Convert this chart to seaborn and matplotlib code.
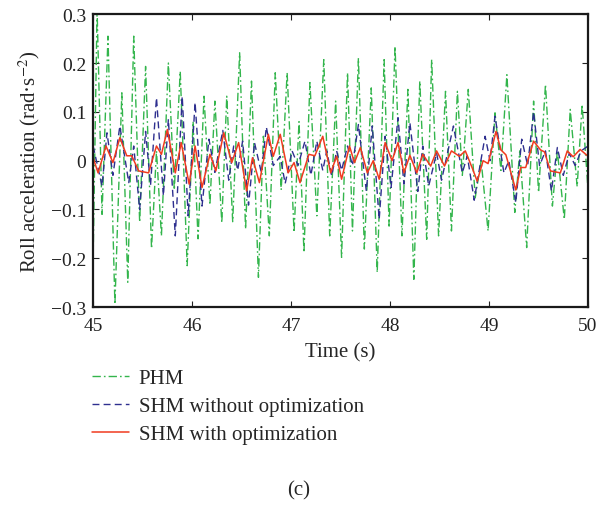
import numpy as np
import pandas as pd
import matplotlib
matplotlib.use("Agg")
import matplotlib.pyplot as plt
import seaborn as sns

# ==========================================
# Data (local peaks / troughs)
# ==========================================
phm_t = [45.00, 45.04, 45.09, 45.15, 45.22, 45.29, 45.35, 45.41, 45.47, 45.53,
         45.59, 45.64, 45.69, 45.76, 45.82, 45.88, 45.95, 46.01, 46.06, 46.12,
         46.18, 46.23, 46.30, 46.35, 46.41, 46.48, 46.54, 46.60, 46.67, 46.72,
         46.78, 46.84, 46.90, 46.96, 47.03, 47.08, 47.13, 47.19, 47.26, 47.33,
         47.39, 47.45, 47.51, 47.57, 47.62, 47.68, 47.74, 47.81, 47.87, 47.94,
         47.99, 48.05, 48.12, 48.18, 48.24, 48.30, 48.37, 48.42, 48.49, 48.56,
         48.62, 48.68, 48.73, 48.79, 48.86, 48.92, 48.99, 49.06, 49.12, 49.18,
         49.26, 49.31, 49.38, 49.45, 49.50, 49.57, 49.64, 49.69, 49.76, 49.82,
         49.89, 49.94, 50.00]
phm_v = [-0.20, 0.31, -0.11, 0.255, -0.294, 0.139, -0.249, 0.255, -0.126, 0.193,
         -0.18, 0.02, -0.154, 0.20, -0.06, 0.183, -0.215, 0.08, -0.16, 0.132,
         -0.09, 0.122, -0.127, 0.132, -0.125, 0.221, -0.14, 0.163, -0.239, 0.05,
         -0.154, 0.18, -0.06, 0.18, -0.147, 0.08, -0.188, 0.16, -0.113, 0.207,
         -0.154, 0.122, -0.198, 0.18, -0.144, 0.21, -0.181, 0.149, -0.229, 0.207,
         -0.134, 0.234, -0.154, 0.146, -0.243, 0.163, -0.161, 0.207, -0.154, 0.142,
         -0.144, 0.142, -0.03, 0.146, -0.076, 0.0, -0.144, 0.098, -0.02, 0.176,
         -0.106, 0.02, -0.178, 0.122, -0.065, 0.156, -0.093, 0.02, -0.12, 0.105,
         -0.053, 0.115, -0.06]

shm_t = [45.00, 45.09, 45.14, 45.20, 45.27, 45.36, 45.41, 45.47, 45.53, 45.58,
         45.64, 45.71, 45.76, 45.83, 45.90, 45.96, 46.03, 46.10, 46.17, 46.23,
         46.31, 46.37, 46.42, 46.46, 46.51, 46.57, 46.63, 46.70, 46.75, 46.82,
         46.89, 46.94, 47.01, 47.07, 47.14, 47.20, 47.26, 47.32, 47.36, 47.41,
         47.46, 47.51, 47.57, 47.62, 47.68, 47.76, 47.82, 47.89, 47.95, 48.01,
         48.08, 48.14, 48.20, 48.28, 48.33, 48.39, 48.47, 48.52, 48.64, 48.73,
         48.78, 48.85, 48.90, 48.96, 49.01, 49.06, 49.15, 49.20, 49.27, 49.33,
         49.39, 49.45, 49.51, 49.57, 49.63, 49.69, 49.75, 49.81, 49.87, 49.93,
         50.00]
shm_v = [0.03, -0.052, 0.057, -0.03, 0.071, -0.045, 0.03, -0.10, 0.06, -0.05,
         0.129, -0.072, 0.085, -0.154, 0.132, -0.113, 0.119, -0.093, 0.044, -0.024,
         0.062, -0.04, 0.03, -0.02, 0.04, -0.091, 0.037, -0.025, 0.069, -0.01,
         0.009, -0.047, 0.02, -0.01, 0.04, -0.03, 0.04, -0.02, 0.02, -0.031,
         0.02, -0.02, 0.03, -0.01, 0.074, -0.062, 0.071, -0.12, 0.05, -0.055,
         0.088, -0.048, 0.078, -0.063, 0.03, -0.052, 0.016, -0.04, 0.071, -0.025,
         0.01, -0.081, -0.02, 0.05, 0.0, 0.091, -0.025, 0.0, -0.086, 0.044,
         -0.01, 0.10, -0.01, 0.02, -0.062, 0.027, -0.03, 0.015, -0.01, 0.02,
         0.03]

opt_t = [45.00, 45.05, 45.13, 45.20, 45.27, 45.34, 45.39, 45.46, 45.56, 45.64,
         45.69, 45.75, 45.83, 45.89, 45.97, 46.03, 46.10, 46.18, 46.24, 46.32,
         46.40, 46.47, 46.55, 46.61, 46.68, 46.77, 46.82, 46.89, 46.97, 47.03,
         47.09, 47.18, 47.24, 47.32, 47.40, 47.46, 47.51, 47.59, 47.64, 47.70,
         47.77, 47.83, 47.89, 47.95, 48.02, 48.08, 48.14, 48.20, 48.27, 48.33,
         48.41, 48.47, 48.55, 48.62, 48.70, 48.76, 48.83, 48.88, 48.94, 48.99,
         49.07, 49.12, 49.17, 49.27, 49.32, 49.37, 49.45, 49.52, 49.56, 49.62,
         49.72, 49.79, 49.85, 49.92, 50.00]
opt_v = [0.006, -0.025, 0.03, -0.004, 0.047, 0.01, 0.01, -0.021, -0.025, 0.03,
         0.013, 0.064, -0.025, 0.037, -0.048, 0.03, -0.055, 0.013, -0.021, 0.057,
         -0.004, 0.037, -0.062, 0.006, -0.045, 0.054, 0.009, 0.054, -0.025, -0.004,
         -0.045, 0.013, 0.01, 0.05, -0.025, 0.009, -0.038, 0.03, -0.004, 0.027,
         -0.025, 0.0, -0.038, 0.037, 0.0, 0.037, -0.025, 0.011, -0.025, 0.013,
         -0.011, 0.02, -0.011, 0.02, 0.009, 0.02, -0.015, -0.042, 0.0, -0.006,
         0.06, 0.022, 0.012, -0.06, -0.014, -0.014, 0.04, 0.022, 0.018, -0.021,
         -0.025, 0.02, 0.008, 0.023, 0.009]

series_labels = ["PHM", "SHM without optimization", "SHM with optimization"]
x_ticks = [45, 46, 47, 48, 49, 50]
y_ticks = [-0.3, -0.2, -0.1, 0, 0.1, 0.2, 0.3]
y_tick_labels = ["\u22120.3", "\u22120.2", "\u22120.1", "0", "0.1", "0.2", "0.3"]

# ==========================================
# Style
# ==========================================
sns.set_style("ticks")
plt.rcParams["font.family"] = ["Liberation Serif", "DejaVu Serif"]
plt.rcParams["mathtext.fontset"] = "stix"
FS = 15
TICK_FS = 14

fig = plt.figure(figsize=(5.97, 5.06), dpi=100)
ax = fig.add_axes([0.156, 0.391, 0.829, 0.579])

sns.lineplot(x=phm_t, y=phm_v, ax=ax, color="#33b54c", lw=1.0,
             linestyle=(0, (6, 2.2, 1.2, 2.2)), label=series_labels[0],
             estimator=None, sort=False)
sns.lineplot(x=shm_t, y=shm_v, ax=ax, color="#2e2f8f", lw=1.0,
             linestyle=(0, (5, 3)), label=series_labels[1],
             estimator=None, sort=False)
sns.lineplot(x=opt_t, y=opt_v, ax=ax, color="#f03a1f", lw=1.1,
             linestyle="-", label=series_labels[2],
             estimator=None, sort=False)

ax.set_xlim(45, 50)
ax.set_ylim(-0.3, 0.3)
ax.set_xticks(x_ticks)
ax.set_xticklabels([str(t) for t in x_ticks], fontsize=TICK_FS)
ax.set_yticks(y_ticks)
ax.set_yticklabels(y_tick_labels, fontsize=TICK_FS)
ax.tick_params(direction="in", top=True, right=True, length=4, width=0.8,
               colors="#222222")
ax.tick_params(axis="x", pad=7)
ax.tick_params(axis="y", pad=5)
for s in ax.spines.values():
    s.set_linewidth(1.6)
    s.set_color("#1a1a1a")

ax.set_xlabel("Time (s)", fontsize=FS, labelpad=6)
ax.set_ylabel("Roll acceleration (rad\u00b7s$^{\u22122}$)", fontsize=FS, labelpad=6)

ax.legend(loc="upper left", bbox_to_anchor=(0.14, 0.286),
          bbox_transform=fig.transFigure, frameon=False, fontsize=FS,
          handlelength=1.8, handletextpad=0.45, labelspacing=0.41,
          borderaxespad=0)

fig.text(0.5, 0.03, "(c)", ha="center", va="center", fontsize=FS)

fig.savefig("out.png", dpi=100)
